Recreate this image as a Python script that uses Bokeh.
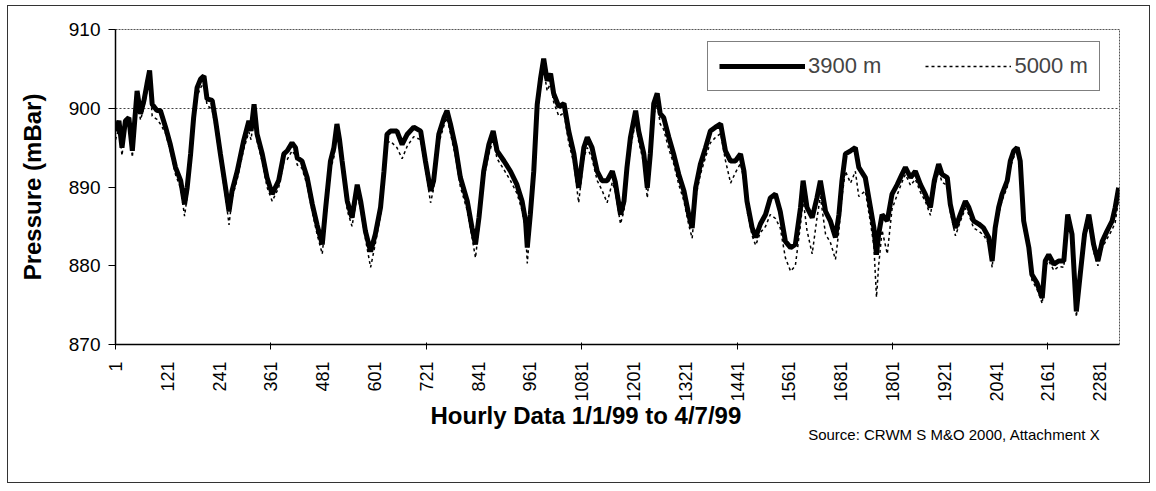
from math import pi
from bokeh.plotting import figure
from bokeh.models import Range1d, FixedTicker, Legend, LegendItem, Title
from bokeh.embed import file_html
from bokeh.resources import INLINE

# ---- data ----
hours = [1, 9, 16, 24, 32, 40, 51, 59, 67, 74, 80, 86, 97, 105, 117, 128, 140, 152, 161, 167,
         175, 182, 190, 198, 206, 213, 225, 233, 244, 256, 264, 271, 283, 298, 310, 315, 322, 329, 341, 352,
         364, 379, 391, 399, 410, 418, 422, 433, 445, 457, 468, 480, 488, 499, 507, 514, 520, 526, 538, 549,
         561, 569, 580, 592, 603, 615, 623, 630, 638, 653, 665, 677, 692, 708, 719, 731, 738, 750, 762, 769,
         777, 789, 800, 816, 827, 835, 843, 854, 866, 876, 885, 901, 916, 931, 943, 951, 955, 962, 970, 978,
         986, 993, 1001, 1009, 1016, 1028, 1040, 1051, 1063, 1074, 1086, 1094, 1105, 1117, 1128, 1140, 1152, 1159, 1171, 1179,
         1186, 1194, 1206, 1213, 1225, 1233, 1240, 1248, 1256, 1263, 1271, 1283, 1294, 1306, 1318, 1329, 1337, 1345, 1356, 1368,
         1379, 1391, 1403, 1414, 1426, 1437, 1449, 1457, 1464, 1476, 1484, 1495, 1507, 1518, 1530, 1541, 1553, 1565, 1576, 1588,
         1594, 1603, 1615, 1626, 1634, 1646, 1657, 1669, 1677, 1684, 1692, 1704, 1715, 1723, 1738, 1750, 1758, 1764, 1769, 1777,
         1789, 1800, 1812, 1823, 1831, 1843, 1854, 1866, 1877, 1889, 1898, 1908, 1916, 1928, 1935, 1947, 1958, 1970, 1978, 1989,
         2001, 2012, 2024, 2032, 2039, 2047, 2055, 2067, 2074, 2082, 2090, 2097, 2105, 2117, 2124, 2136, 2148, 2155, 2163, 2175,
         2186, 2198, 2207, 2217, 2227, 2236, 2246, 2256, 2267, 2277, 2287, 2298, 2310, 2317, 2325]

p3900 = [897.1, 898.4, 895.0, 898.4, 898.8, 894.6, 902.2, 899.3, 901.0, 903.1, 904.8, 900.5, 899.7, 899.7, 897.6, 895.4, 892.5, 890.8, 887.8, 889.9,
         894.2, 898.8, 902.6, 903.7, 904.1, 901.2, 901.0, 898.4, 894.2, 889.9, 886.9, 889.5, 892.0, 895.9, 898.4, 897.1, 900.5, 896.7, 894.2, 891.2,
         889.1, 890.8, 894.2, 894.6, 895.6, 895.0, 893.7, 893.3, 891.2, 887.8, 885.2, 882.7, 887.4, 893.3, 895.0, 898.0, 896.0, 893.3, 888.2, 886.1,
         890.3, 888.2, 884.4, 881.8, 884.0, 887.4, 892.0, 896.7, 897.1, 897.1, 895.4, 896.7, 897.6, 897.1, 893.3, 889.5, 890.8, 896.7, 898.8, 899.7,
         898.0, 895.0, 891.2, 888.2, 884.8, 882.7, 886.1, 892.0, 895.4, 897.1, 894.6, 893.3, 892.0, 890.3, 888.2, 885.7, 882.3, 886.5, 892.0, 900.5,
         903.9, 906.3, 903.5, 904.4, 901.9, 900.2, 900.6, 897.1, 894.2, 889.9, 895.0, 896.3, 895.0, 892.0, 890.8, 890.8, 892.0, 890.6, 886.5, 888.2,
         892.5, 896.3, 899.7, 897.1, 894.2, 889.9, 894.2, 900.6, 901.9, 899.3, 898.8, 896.3, 894.2, 891.6, 889.5, 886.5, 884.8, 889.9, 892.9, 895.0,
         897.1, 897.6, 898.0, 894.6, 893.3, 893.3, 894.2, 892.0, 888.2, 884.8, 883.6, 885.3, 886.5, 888.6, 889.1, 886.9, 883.1, 882.3, 882.7, 887.4,
         890.8, 887.4, 886.1, 888.6, 890.8, 886.9, 885.7, 883.6, 886.5, 890.8, 894.2, 894.6, 895.0, 892.5, 891.2, 887.4, 884.8, 881.4, 884.0, 886.5,
         885.7, 889.1, 890.3, 891.6, 892.5, 891.2, 892.0, 890.3, 889.1, 887.4, 890.8, 892.9, 891.6, 891.2, 887.8, 884.8, 886.5, 888.2, 887.4, 885.7,
         885.3, 884.8, 883.6, 880.6, 884.8, 887.4, 889.1, 890.8, 893.3, 894.6, 895.0, 893.3, 885.7, 882.3, 878.9, 877.8, 875.9, 880.6, 881.4, 880.2,
         880.6, 880.6, 886.5, 884.0, 874.2, 878.9, 884.0, 886.5, 882.7, 880.6, 883.1, 884.4, 885.7, 887.4, 889.9]

p5000 = [896.0, 897.5, 894.0, 897.6, 898.0, 893.8, 901.0, 898.5, 900.2, 902.2, 903.6, 899.0, 898.6, 898.0, 896.8, 894.6, 891.6, 889.8, 886.3, 888.8,
         893.0, 897.8, 901.5, 902.6, 903.2, 900.4, 899.8, 897.4, 893.2, 888.8, 885.2, 888.5, 891.0, 894.8, 897.0, 896.0, 899.2, 895.8, 893.2, 890.0,
         888.2, 889.9, 893.2, 893.5, 894.6, 894.0, 892.8, 892.4, 890.2, 886.8, 884.0, 881.5, 886.0, 892.2, 893.8, 897.0, 895.0, 892.3, 887.0, 885.0,
         889.0, 887.2, 883.4, 879.8, 882.8, 886.4, 891.0, 895.6, 895.8, 895.0, 893.6, 895.2, 896.4, 896.0, 892.3, 888.0, 889.8, 895.6, 897.8, 898.8,
         896.8, 893.8, 890.0, 887.0, 883.6, 881.0, 885.0, 891.0, 894.2, 896.0, 893.6, 892.2, 890.8, 889.2, 887.0, 884.5, 880.3, 885.2, 891.0, 899.2,
         902.8, 905.0, 902.2, 903.2, 900.8, 899.0, 899.4, 895.6, 893.0, 888.0, 893.8, 895.0, 893.6, 890.8, 889.6, 888.0, 890.6, 889.4, 885.3, 887.0,
         891.3, 895.0, 898.3, 895.8, 893.0, 888.6, 893.0, 899.2, 900.6, 898.0, 897.3, 894.8, 893.0, 890.3, 888.2, 885.2, 883.5, 888.6, 891.6, 893.8,
         895.6, 896.3, 896.8, 893.4, 890.5, 891.8, 893.0, 890.8, 887.0, 883.8, 882.6, 884.2, 885.0, 886.5, 886.0, 884.8, 881.0, 879.3, 880.0, 885.2,
         888.5, 884.5, 881.5, 886.0, 888.8, 884.0, 883.0, 880.8, 884.5, 888.8, 892.0, 890.5, 892.0, 888.8, 889.5, 885.5, 882.5, 876.0, 880.0, 884.5,
         881.5, 887.2, 889.0, 890.6, 891.6, 890.2, 891.0, 889.3, 888.2, 886.4, 889.8, 892.0, 890.6, 890.2, 886.8, 883.8, 885.6, 887.3, 886.5, 884.8,
         884.4, 883.9, 882.8, 879.8, 884.0, 886.6, 888.3, 890.0, 892.5, 893.8, 894.2, 892.6, 885.0, 881.5, 878.2, 877.0, 875.2, 879.9, 880.6, 879.4,
         879.9, 879.8, 885.8, 883.2, 873.5, 878.2, 883.2, 885.6, 881.8, 880.0, 882.3, 883.4, 884.6, 885.5, 888.5]

x_tick_labels = [1, 121, 241, 361, 481, 601, 721, 841, 961, 1081, 1201, 1321,
                 1441, 1561, 1681, 1801, 1921, 2041, 2161, 2281]
x_tick_marks = [1, 361, 721, 1081, 1441, 1801, 2161]
y_ticks = [870, 880, 890, 900, 910]
series_names = ["3900 m", "5000 m"]

FONT = "Liberation Sans"

p = figure(frame_width=1004, frame_height=315,
           min_border_left=107, min_border_right=30, min_border_top=23, min_border_bottom=138,
           x_range=Range1d(1, 2327), y_range=Range1d(870, 910),
           output_backend="svg", toolbar_location=None)
p.styles = {"border": "1px solid #333", "margin-left": "7px", "margin-top": "5px"}
p.background_fill_color = "white"
p.border_fill_color = "white"
p.outline_line_color = "#555555"
p.outline_line_dash = "2 1"
p.outline_line_width = 1

r5 = p.line(hours, p5000, line_color="black", line_width=1.5, line_dash="3 3")
r39 = p.line(hours, p3900, line_color="black", line_width=5)

# axes
xa = p.xaxis[0]
xa.ticker = FixedTicker(ticks=x_tick_labels, minor_ticks=x_tick_marks)
xa.major_label_orientation = pi / 2
xa.major_tick_out = 0
xa.major_tick_in = 0
xa.minor_tick_out = 5
xa.minor_tick_in = 2
xa.minor_tick_line_color = "black"
xa.major_label_standoff = 12
xa.major_label_text_font = FONT
xa.major_label_text_font_size = "18px"
xa.major_label_text_color = "black"
xa.axis_line_color = "black"
xa.axis_line_width = 1.5

ya = p.yaxis[0]
ya.ticker = FixedTicker(ticks=y_ticks)
ya.major_tick_out = 7
ya.major_tick_in = 0
ya.minor_tick_line_color = None
ya.major_tick_line_color = "black"
ya.major_label_standoff = 8
ya.major_label_text_font = FONT
ya.major_label_text_font_size = "19px"
ya.major_label_text_color = "black"
ya.axis_line_color = "black"
ya.axis_line_width = 1.5
ya.axis_label = "Pressure (mBar)"
ya.axis_label_text_font = FONT
ya.axis_label_text_font_size = "24px"
ya.axis_label_text_font_style = "bold"
ya.axis_label_text_color = "black"
ya.axis_label_standoff = 20

p.xgrid.visible = False
p.ygrid.ticker = FixedTicker(ticks=[900])
p.ygrid.grid_line_color = "#444444"
p.ygrid.grid_line_dash = "2 2"
p.ygrid.grid_line_width = 1

# legend
legend = Legend(items=[LegendItem(label=series_names[0], renderers=[r39]),
                       LegendItem(label=series_names[1], renderers=[r5])],
                location=(592, 253), orientation="horizontal",
                label_text_font=FONT, label_text_font_size="22px",
                glyph_width=86, glyph_height=16, label_height=16, label_standoff=3,
                spacing=44, padding=11, margin=0,
                border_line_color="black", border_line_width=1,
                background_fill_color="white", background_fill_alpha=1)
p.add_layout(legend)

# x-axis title and source note
p.add_layout(Title(text="Hourly Data 1/1/99 to 4/7/99", align="left", offset=315,
                   text_font=FONT, text_font_size="24px", text_font_style="bold",
                   text_color="black", standoff=-10), "below")
p.add_layout(Title(text="Source: CRWM S M&O 2000, Attachment X", align="right", offset=19,
                   text_font=FONT, text_font_size="15px", text_font_style="normal",
                   text_color="black", standoff=0), "below")

open("out.html", "w").write(file_html(p, INLINE))
